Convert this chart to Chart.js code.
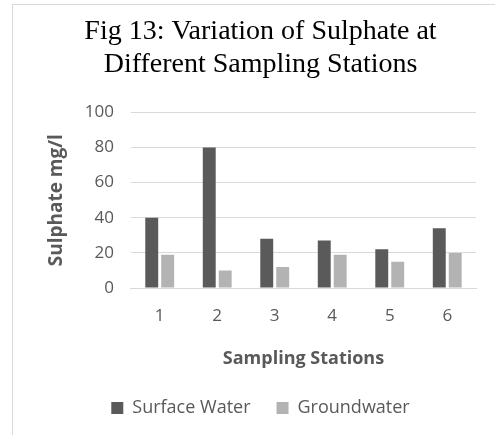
<!DOCTYPE html>
<html>
<head>
<meta charset="utf-8">
<script src="https://cdn.jsdelivr.net/npm/chart.js@4"></script>
<style>
  html, body { margin: 0; padding: 0; background: #fff; }
  #wrap { position: relative; width: 495px; height: 435px; }
  #frame {
    position: absolute; left: 12px; top: 4px; right: 0; bottom: 0;
    border-left: 1px solid #d9d9d9; border-top: 1px solid #d9d9d9;
  }
  #chart { position: absolute; left: 0; top: 0; }
</style>
</head>
<body>
<div id="wrap">
  <div id="frame"></div>
  <canvas id="chart" width="495" height="435"></canvas>
</div>
<script>
const stations = ["1", "2", "3", "4", "5", "6"];
const surfaceWater = [40, 80, 28, 27, 22, 34];
const groundwater = [19, 10, 12, 19, 15, 20];
const yTicks = [0, 20, 40, 60, 80, 100];

const sans = "'Open Sans', 'Liberation Sans', sans-serif";
const grey = "#595959";

const ctx = document.getElementById("chart").getContext("2d");

new Chart(ctx, {
  type: "bar",
  data: {
    labels: stations,
    datasets: [
      {
        label: "Surface Water",
        data: surfaceWater,
        backgroundColor: "#5a5a5a",
        categoryPercentage: 0.555,
        barPercentage: 0.81
      },
      {
        label: "Groundwater",
        data: groundwater,
        backgroundColor: "#b3b3b3",
        categoryPercentage: 0.555,
        barPercentage: 0.81
      }
    ]
  },
  options: {
    responsive: false,
    animation: false,
    layout: {
      padding: { left: 45, right: 19, top: 0, bottom: 8 }
    },
    plugins: {
      title: {
        display: true,
        text: ["Fig 13: Variation of Sulphate at", "Different Sampling Stations"],
        color: "#000",
        font: { family: "'Liberation Serif', 'Times New Roman', serif", size: 28, weight: "normal", lineHeight: 1.15 },
        padding: { top: 16, bottom: 32 }
      },
      legend: {
        position: "bottom",
        labels: {
          color: grey,
          font: { family: sans, size: 18 },
          boxWidth: 12,
          boxHeight: 12,
          padding: 26
        }
      },
      tooltip: { enabled: false }
    },
    scales: {
      x: {
        grid: { display: false },
        border: { color: "#d9d9d9" },
        ticks: { color: grey, font: { family: sans, size: 17 }, padding: 10 },
        title: {
          display: true,
          text: "Sampling Stations",
          color: grey,
          font: { family: sans, size: 18, weight: "bold" },
          padding: { top: 12, bottom: 3 }
        }
      },
      y: {
        min: 0,
        max: 100,
        afterBuildTicks: (axis) => {
          axis.ticks = yTicks.map((v) => ({ value: v }));
        },
        grid: { color: "#d9d9d9", drawTicks: false },
        border: { display: false },
        ticks: { color: grey, font: { family: sans, size: 17 }, padding: 17 },
        title: {
          display: true,
          text: "Sulphate mg/l",
          color: grey,
          font: { family: sans, size: 19, weight: "bold" },
          padding: { top: 0, bottom: 0 }
        }
      }
    }
  }
});
</script>
</body>
</html>
